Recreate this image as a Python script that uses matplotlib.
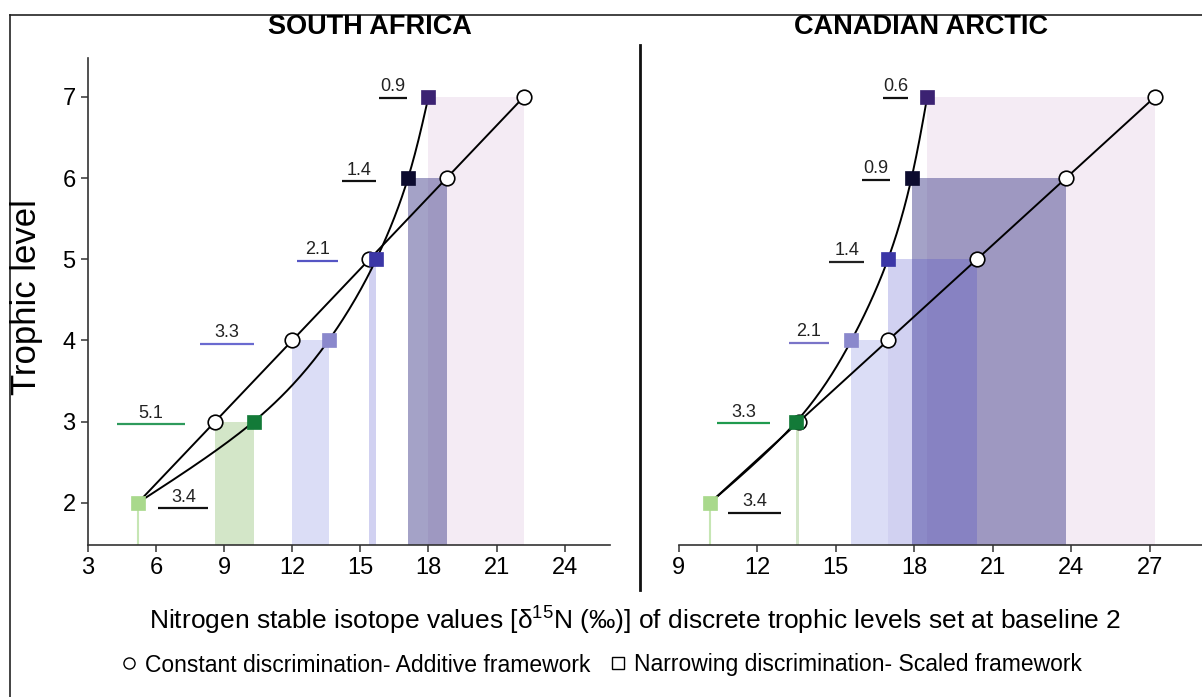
import numpy as np
import matplotlib
matplotlib.use("Agg")
import matplotlib.pyplot as plt
from matplotlib.lines import Line2D

plt.rcParams['font.family'] = ['Liberation Sans', 'DejaVu Sans']
plt.rcParams['mathtext.fontset'] = 'custom'
plt.rcParams['mathtext.rm'] = 'Liberation Sans'

# ---------------- data ----------------
levels = [2, 3, 4, 5, 6, 7]

sa_additive = [5.2, 8.6, 12.0, 15.4, 18.8, 22.2]
sa_scaled = [5.2, 10.3, 13.6, 15.7, 17.1, 18.0]
sa_steps = ["5.1", "3.3", "2.1", "1.4", "0.9"]

ca_additive = [10.2, 13.6, 17.0, 20.4, 23.8, 27.2]
ca_scaled = [10.2, 13.5, 15.6, 17.0, 17.9, 18.5]
ca_steps = ["3.3", "2.1", "1.4", "0.9", "0.6"]

additive_step = "3.4"

panel_titles = ["SOUTH AFRICA", "CANADIAN ARCTIC"]
sa_xticks = [3, 6, 9, 12, 15, 18, 21, 24]
ca_xticks = [9, 12, 15, 18, 21, 24, 27]
yticks = [2, 3, 4, 5, 6, 7]

xlabel = 'Nitrogen stable isotope values [δ$^{15}$N (‰)] of discrete trophic levels set at baseline 2'
ylabel = 'Trophic level'
legend_labels = ['Constant discrimination- Additive framework',
                 'Narrowing discrimination- Scaled framework']

# ---------------- styles / layout ----------------
marker_colors = ['#a9d98c', '#137a38', '#8a88cc', '#3b36a6', '#0c0b2e', '#3b2272']
rect_colors = [None, '#a9cf92', '#b8bcee', '#4040c8', '#4a4790', '#e4cfe4']
rect_alphas = [0, 0.5, 0.5, 0.24, 0.5, 0.4]
base_line_color = '#c6e6b4'
step_line_colors = ['#2e9a5c', '#6a6ad0', '#5555c4', '#111111', '#111111']
ca_step_line_colors = ['#1f9a4e', '#7a74c8', '#222222', '#111111', '#111111']

# underline positions (x0, x1, y) for level labels 3..7 and additive label
sa_label_pos = [(4.28, 7.27, 2.97), (7.93, 10.3, 3.96), (12.2, 14.0, 4.98),
                (14.2, 15.7, 5.96), (15.8, 17.05, 6.99)]
sa_add_pos = (6.1, 8.3, 1.93)
ca_label_pos = [(10.45, 12.5, 2.98), (13.2, 14.75, 3.97), (14.76, 16.1, 4.97),
                (16.0, 17.08, 5.98), (16.81, 17.77, 6.99)]
ca_add_pos = (10.9, 12.9, 1.88)

YBOT, YTOP = 1.48, 7.48


def natural_spline(t, v, tt):
    t = np.asarray(t, float); v = np.asarray(v, float)
    n = len(t)
    h = np.diff(t)
    A = np.zeros((n, n)); b = np.zeros(n)
    A[0, 0] = 1; A[-1, -1] = 1
    for i in range(1, n - 1):
        A[i, i - 1] = h[i - 1]
        A[i, i] = 2 * (h[i - 1] + h[i])
        A[i, i + 1] = h[i]
        b[i] = 3 * ((v[i + 1] - v[i]) / h[i] - (v[i] - v[i - 1]) / h[i - 1])
    c = np.linalg.solve(A, b)
    out = np.empty_like(tt)
    for k, x in enumerate(tt):
        i = min(max(np.searchsorted(t, x) - 1, 0), n - 2)
        dx = x - t[i]
        bi = (v[i + 1] - v[i]) / h[i] - h[i] * (2 * c[i] + c[i + 1]) / 3
        di = (c[i + 1] - c[i]) / (3 * h[i])
        out[k] = v[i] + bi * dx + c[i] * dx ** 2 + di * dx ** 3
    return out


fig = plt.figure(figsize=(12.02, 6.97), dpi=100)
W, H = 1202, 697


def px_axes(x0, x1, ytop, ybot):
    return fig.add_axes([x0 / W, 1 - ybot / H, (x1 - x0) / W, (ybot - ytop) / H])


ax1 = px_axes(88, 610, 58, 545)
ax2 = px_axes(678.6, 1202, 58, 545)


def draw_panel(ax, add, sca, steps, lpos, apos, lcols, xlim, xticks, show_y):
    # range rectangles (highest level drawn first)
    for i in range(len(levels) - 1, 0, -1):
        lo = min(add[i], sca[i]); hi = max(add[i], sca[i])
        ax.bar(lo, levels[i] - YBOT, width=hi - lo, bottom=YBOT, align='edge',
               color=rect_colors[i], alpha=rect_alphas[i], linewidth=0, zorder=1)
    ax.vlines(add[0], YBOT, levels[0], color=base_line_color, lw=1.5, zorder=1)
    # additive line
    ax.plot(add, levels, color='black', lw=1.4, zorder=3)
    # scaled smooth curve
    yy = np.linspace(levels[0], levels[-1], 200)
    xx = natural_spline(levels, sca, yy)
    ax.plot(xx, yy, color='black', lw=1.4, zorder=3)
    # markers
    ax.plot(add[1:], levels[1:], 'o', ms=10.5, mfc='white', mec='black', mew=1.2, zorder=4)
    for i in range(len(levels)):
        ax.plot(sca[i], levels[i], 's', ms=10.5, mfc=marker_colors[i],
                mec=marker_colors[i], mew=0.5, zorder=5)
    # step labels
    for s, (x0, x1, y), c in zip(steps, lpos, lcols):
        ax.plot([x0, x1], [y, y], color=c, lw=1.6, zorder=3, solid_capstyle='butt')
        ax.text((x0 + x1) / 2, y + 0.03, s, ha='center', va='bottom', fontsize=13, color='#222222')
    x0, x1, y = apos
    ax.plot([x0, x1], [y, y], color='#111111', lw=1.6, zorder=3, solid_capstyle='butt')
    ax.text((x0 + x1) / 2, y + 0.03, additive_step, ha='center', va='bottom', fontsize=13, color='#222222')

    ax.set_xlim(*xlim)
    ax.set_ylim(YBOT, YTOP)
    ax.set_xticks(xticks)
    ax.set_yticks(yticks)
    ax.tick_params(labelsize=17, length=5, width=1.1, direction='out', colors='#333333',
                   labelcolor='black', pad=4)
    for sp in ['top', 'right']:
        ax.spines[sp].set_visible(False)
    ax.spines['bottom'].set_color('#333333')
    ax.spines['bottom'].set_linewidth(1.2)
    if show_y:
        ax.spines['left'].set_color('#333333')
        ax.spines['left'].set_linewidth(1.2)
    else:
        ax.spines['left'].set_visible(False)
        ax.tick_params(axis='y', left=False, labelleft=False)
    ax.patch.set_alpha(0)


draw_panel(ax1, sa_additive, sa_scaled, sa_steps, sa_label_pos, sa_add_pos,
           step_line_colors, (3, 26), sa_xticks, True)
draw_panel(ax2, ca_additive, ca_scaled, ca_steps, ca_label_pos, ca_add_pos,
           ca_step_line_colors, (9, 29), ca_xticks, False)

# titles and labels
fig.text(370 / W, 1 - 27 / H, panel_titles[0], ha='center', va='center', fontsize=19.5, fontweight='bold')
fig.text(921 / W, 1 - 27 / H, panel_titles[1], ha='center', va='center', fontsize=19.5, fontweight='bold')
fig.text(27 / W, 1 - 297 / H, ylabel, ha='center', va='center', rotation=90, fontsize=25)
fig.text(635 / W, 1 - 620 / H, xlabel, ha='center', va='center', fontsize=19)

handles = [Line2D([], [], ls='none', marker='o', ms=8, mfc='white', mec='black', mew=1.0),
           Line2D([], [], ls='none', marker='s', ms=8, mfc='white', mec='black', mew=1.0)]
fig.legend(handles, legend_labels, loc='center', bbox_to_anchor=(601 / W, 1 - 665 / H),
           ncol=2, frameon=False, fontsize=16.5, handletextpad=0.3, columnspacing=0.8,
           handlelength=0.8)

# frame and divider
fig.add_artist(Line2D([10 / W, 10 / W], [0, 1 - 15 / H], color='#222222', lw=1.2))
fig.add_artist(Line2D([10 / W, 1], [1 - 15 / H, 1 - 15 / H], color='#222222', lw=1.2))
fig.add_artist(Line2D([640 / W, 640 / W], [1 - 590 / H, 1 - 45 / H], color='#111111', lw=2.0))

fig.savefig('out.png', dpi=100)
